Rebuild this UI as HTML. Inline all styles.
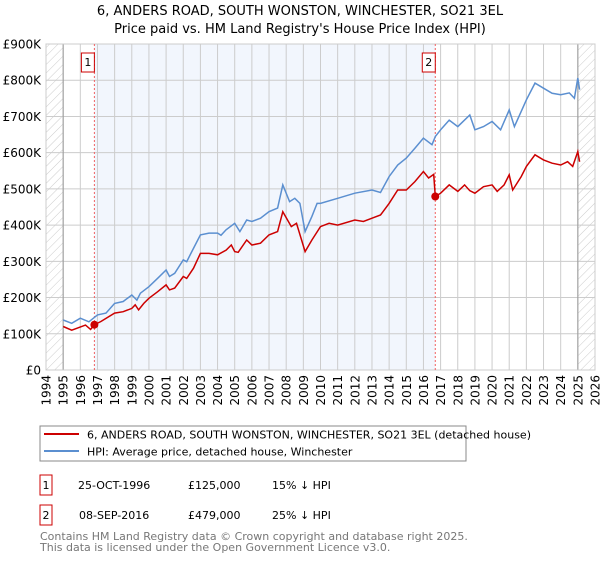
<!DOCTYPE html>
<html><head><meta charset="utf-8"><style>
body{margin:0;background:#fff;font-family:"DejaVu Sans","Liberation Sans",sans-serif;}
svg text{font-family:"DejaVu Sans","Liberation Sans",sans-serif;}
</style></head><body>
<svg id="c" width="600" height="560" xmlns="http://www.w3.org/2000/svg">
<defs><pattern id="hatch" width="6" height="6" patternUnits="userSpaceOnUse" patternTransform="rotate(45)"><line x1="0" y1="0" x2="0" y2="6" stroke="#ccc" stroke-width="1"/></pattern></defs>
<text x="300" y="15" text-anchor="middle" font-size="13">6, ANDERS ROAD, SOUTH WONSTON, WINCHESTER, SO21 3EL</text>
<text x="300" y="33" text-anchor="middle" font-size="13">Price paid vs. HM Land Registry's House Price Index (HPI)</text>
<g id="plot"></g>
<rect x="40" y="426" width="426" height="35" fill="#fff" stroke="#888"/>
<line x1="44" y1="434" x2="79" y2="434" stroke="#cc0000" stroke-width="2"/>
<text x="87" y="438.5" font-size="11">6, ANDERS ROAD, SOUTH WONSTON, WINCHESTER, SO21 3EL (detached house)</text>
<line x1="44" y1="451" x2="79" y2="451" stroke="#5b8fd0" stroke-width="2"/>
<text x="87" y="455.5" font-size="11">HPI: Average price, detached house, Winchester</text>
<g font-size="11">
<rect x="40" y="475" width="12" height="20" fill="#fff" stroke="#cc0000"/>
<text x="46" y="489" text-anchor="middle">1</text>
<text x="78" y="489">25-OCT-1996</text>
<text x="188" y="489">£125,000</text>
<text x="272" y="489">15% ↓ HPI</text>
<rect x="40" y="505" width="12" height="20" fill="#fff" stroke="#cc0000"/>
<text x="46" y="519" text-anchor="middle">2</text>
<text x="79" y="519">08-SEP-2016</text>
<text x="188" y="519">£479,000</text>
<text x="272" y="519">25% ↓ HPI</text>
</g>
<text x="40" y="540" font-size="11" fill="#777">Contains HM Land Registry data © Crown copyright and database right 2025.</text>
<text x="40" y="551" font-size="11" fill="#777">This data is licensed under the Open Government Licence v3.0.</text>
</svg>
<script>
const yTicks=[0,100000,200000,300000,400000,500000,600000,700000,800000,900000];
const yTickLabels=["£0","£100K","£200K","£300K","£400K","£500K","£600K","£700K","£800K","£900K"];
const xYears=[1994,1995,1996,1997,1998,1999,2000,2001,2002,2003,2004,2005,2006,2007,2008,2009,2010,2011,2012,2013,2014,2015,2016,2017,2018,2019,2020,2021,2022,2023,2024,2025,2026];
const hpiT=[1995,1995.5,1996,1996.5,1997,1997.5,1998,1998.5,1999,1999.3,1999.5,2000,2000.5,2001,2001.2,2001.5,2002,2002.2,2002.5,2003,2003.5,2004,2004.2,2004.5,2005,2005.3,2005.7,2006,2006.5,2007,2007.5,2007.8,2008.2,2008.5,2008.8,2009.1,2009.5,2009.8,2010,2011,2012,2013,2013.5,2014,2014.5,2015,2015.5,2016,2016.5,2016.7,2017,2017.5,2018,2018.7,2019,2019.5,2020,2020.5,2021,2021.3,2021.7,2022,2022.5,2023,2023.5,2024,2024.5,2024.8,2025,2025.1];
const hpiV=[138000,129000,143000,133000,152000,157000,184000,189000,207000,193000,212000,230000,253000,276000,258000,267000,304000,299000,327000,373000,378000,378000,372000,387000,405000,382000,414000,410000,419000,437000,447000,511000,465000,474000,460000,382000,424000,460000,460000,474000,488000,497000,490000,534000,566000,585000,612000,640000,622000,645000,663000,690000,672000,704000,663000,672000,686000,663000,718000,672000,714000,746000,792000,778000,764000,760000,765000,750000,806000,774000];
const ppT=[1995,1995.5,1996.3,1996.6,1996.82,1997.2,1998,1998.5,1999,1999.2,1999.4,1999.7,2000,2000.5,2001,2001.2,2001.5,2002,2002.2,2002.6,2003,2003.5,2004,2004.5,2004.8,2005,2005.2,2005.7,2006,2006.5,2007,2007.5,2007.8,2008.3,2008.6,2009.1,2009.5,2010,2010.5,2011,2012,2012.5,2013,2013.5,2014,2014.5,2015,2015.5,2016,2016.3,2016.6,2016.69,2017,2017.5,2018,2018.4,2018.7,2019,2019.5,2020,2020.3,2020.7,2021,2021.2,2021.7,2022,2022.5,2023,2023.5,2024,2024.4,2024.7,2025,2025.1];
const ppV=[120000,110000,124000,112000,125000,134000,157000,161000,170000,180000,166000,184000,198000,216000,235000,221000,226000,258000,253000,281000,322000,322000,318000,331000,345000,327000,325000,359000,345000,350000,373000,382000,437000,396000,405000,327000,359000,396000,405000,400000,414000,410000,419000,428000,460000,497000,497000,520000,548000,530000,540000,479000,488000,511000,493000,511000,495000,488000,506000,511000,493000,511000,539000,497000,534000,562000,594000,580000,571000,566000,575000,562000,603000,575000];
const saleT=[1996.82,2016.69];
const saleV=[125000,479000];
const saleLabels=["1","2"];
const NS="http://www.w3.org/2000/svg";
const L=46,R=595,T=44,B=370;
const x=t=>L+(t-1994)/32*(R-L);
const y=v=>B-v/900000*(B-T);
const g=document.getElementById('plot');
function mk(tag,a,p){const e=document.createElementNS(NS,tag);for(const k in a)e.setAttribute(k,a[k]);(p||g).appendChild(e);return e;}
let e;
e=mk('rect',{x:x(saleT[0]),y:T,width:x(saleT[1])-x(saleT[0]),height:B-T,fill:'#eef3fc',opacity:0.75});


e=mk('rect',{x:L,y:T,width:x(1995)-L,height:B-T,fill:'url(#hatch)'});


e=mk('rect',{x:x(2025),y:T,width:R-x(2025),height:B-T,fill:'url(#hatch)'});


yTicks.forEach((v,i)=>{
 e=mk('line',{x1:L,x2:R,y1:y(v),y2:y(v),stroke:'#ccc'});
 
 
 e=mk('text',{x:L-5,y:y(v)+4.5,'text-anchor':'end','font-size':12});
 e.textContent=yTickLabels[i];
 
 
});
xYears.forEach(yr=>{
 e=mk('line',{x1:x(yr),x2:x(yr),y1:T,y2:B,stroke:'#ccc'});
 
 
 e=mk('text',{x:0,y:0,'text-anchor':'end','font-size':12,transform:`translate(${x(yr)+4.5},${B+5}) rotate(-90)`});
 e.textContent=yr;
 
 
});
e=mk('line',{x1:x(1995),x2:x(1995),y1:T,y2:B,stroke:'#999'});


e=mk('line',{x1:x(2025),x2:x(2025),y1:T,y2:B,stroke:'#999'});


e=mk('rect',{x:L,y:T,width:R-L,height:B-T,fill:'none',stroke:'#ccc'});


saleT.forEach((t,i)=>{
 e=mk('line',{x1:x(t),x2:x(t),y1:T,y2:B,stroke:'#f06060','stroke-dasharray':'2,2'});
 
 
 e=mk('rect',{x:x(t)-13,y:T+9,width:13,height:19,fill:'#fff',stroke:'#cc0000'});
 
 
 e=mk('text',{x:x(t)-6.5,y:T+22,'text-anchor':'middle','font-size':11});
 e.textContent=saleLabels[i];
 
 
});
const pts=(ts,vs)=>ts.map((t,i)=>x(t).toFixed(1)+','+y(vs[i]).toFixed(1)).join(' ');
e=mk('polyline',{points:pts(hpiT,hpiV),fill:'none',stroke:'#5b8fd0','stroke-width':1.5});


e=mk('polyline',{points:pts(ppT,ppV),fill:'none',stroke:'#cc0000','stroke-width':1.5});


saleT.forEach((t,i)=>{
 e=mk('circle',{cx:x(t),cy:y(saleV[i]),r:4,fill:'#cc0000'});
 
 
});
</script>
</body></html>
